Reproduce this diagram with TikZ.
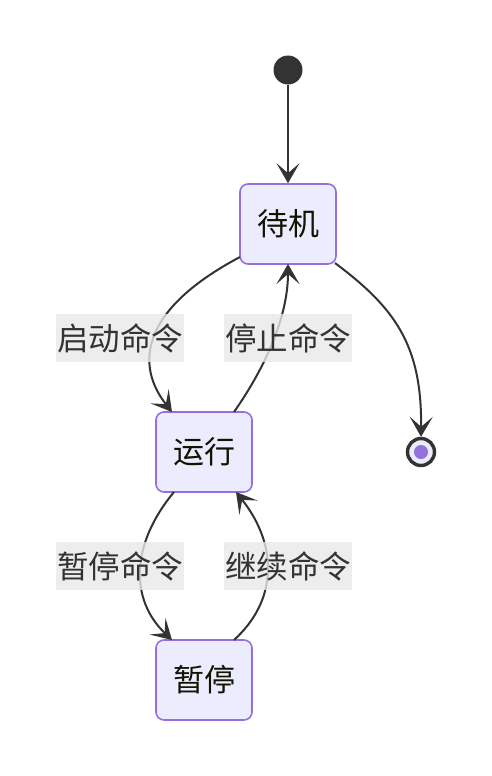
\documentclass[tikz,border=0pt]{standalone}
\usepackage{fontspec}
\newfontfamily\cjk{Noto Sans CJK SC}
\usetikzlibrary{arrows.meta}
\definecolor{nodefill}{HTML}{ECECFF}
\definecolor{nodeline}{HTML}{9370DB}
\definecolor{edgecol}{HTML}{333333}
\definecolor{lblfill}{HTML}{E8E8E8}
\definecolor{txtcol}{HTML}{131300}
\begin{document}
\begin{tikzpicture}[x=1pt,y=-1pt,
  statebox/.style={draw=nodeline,fill=nodefill,line width=1.6pt,rounded corners=8pt,
    minimum width=96pt,minimum height=80pt,inner sep=0pt,text=txtcol,
    font=\cjk\fontsize{31}{36}\selectfont},
  edge/.style={draw=edgecol,line width=2pt,
    -{Stealth[length=20pt,width=23pt,inset=10pt]}},
  lbl/.style={fill=lblfill,fill opacity=0.8,text opacity=1,text=edgecol,
    inner sep=0pt,minimum width=128pt,minimum height=48pt,
    font=\cjk\fontsize{31.5}{36}\selectfont}]
\useasboundingbox (0,0) rectangle (491,776);
\node[circle,fill=edgecol,minimum size=29pt,inner sep=0pt] (start) at (288,70) {};
\node[statebox] (idle) at (288,224) {待机};
\node[statebox] (run) at (204,452) {运行};
\node[statebox] (pause) at (204,680) {暂停};
\node[circle,draw=edgecol,line width=3.4pt,fill=nodefill,minimum size=27pt,inner sep=0pt] (end) at (421,452) {};
\node[circle,fill=nodeline,minimum size=14pt,inner sep=0pt] (endin) at (end.center) {};

\coordinate (i1) at (240,257);
\coordinate (i2) at (288,264);
\coordinate (i3) at (335,263);
\coordinate (r1) at (172,412);
\coordinate (r2) at (234,412);
\coordinate (r3) at (174,492);
\coordinate (r4) at (236,492);
\coordinate (p1) at (172,640);
\coordinate (p2) at (234,640);

\draw[edge] (start) -- (idle);
\draw[edge] (i1) .. controls (140,310) and (135,365) .. (r1);
\draw[edge] (r2) .. controls (262,372) and (288,320) .. (i2);
\draw[edge] (i3) .. controls (395,308) and (422,345) .. (end.north);
\draw[edge] (r3) .. controls (130,545) and (130,600) .. (p1);
\draw[edge] (p2) .. controls (278,600) and (278,545) .. (r4);

\node[lbl] (l1) at (120,338) {启动命令};
\node[lbl] (l2) at (288,338) {停止命令};
\node[lbl] (l3) at (120,566) {暂停命令};
\node[lbl] (l4) at (288,566) {继续命令};
\end{tikzpicture}
\end{document}
